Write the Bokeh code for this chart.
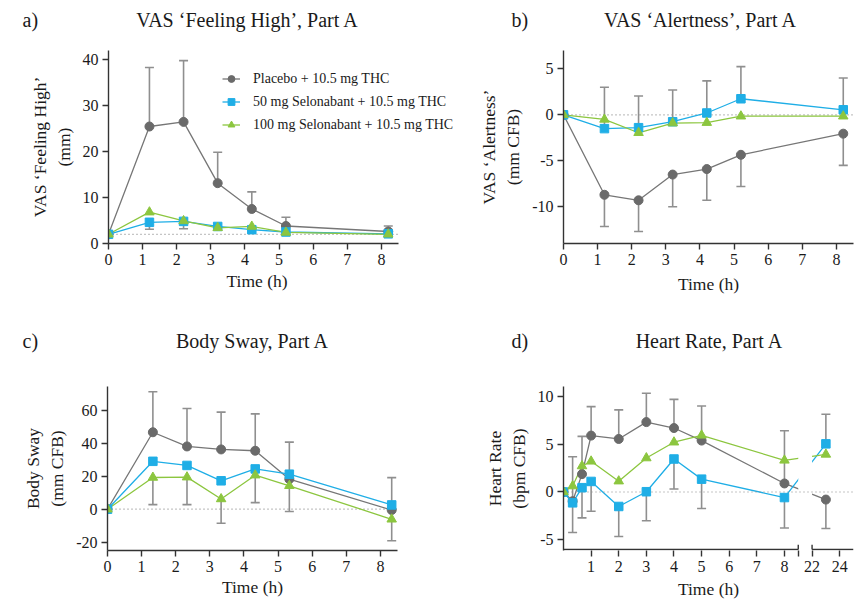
from bokeh.embed import file_html
from bokeh.layouts import column, row
from bokeh.models import FixedTicker, Label, Legend, LegendItem, Range1d, Title
from bokeh.plotting import figure
from bokeh.resources import INLINE

nan = float("nan")

SERIES = [
    "Placebo + 10.5 mg THC",
    "50 mg Selonabant + 10.5 mg THC",
    "100 mg Selonabant + 10.5 mg THC",
]

# a) VAS 'Feeling High' (mm)
TIME_A = [0, 1.2, 2.2, 3.2, 4.2, 5.2, 8.2]
HIGH_PLACEBO = [2.0, 25.4, 26.4, 13.1, 7.5, 3.8, 2.6]
HIGH_PLACEBO_UP = [nan, 38.2, 39.7, 19.8, 11.2, 5.7, 3.8]
HIGH_SEL50 = [2.0, 4.6, 4.8, 3.7, 3.0, 2.5, 2.1]
HIGH_SEL50_DOWN = [nan, 3.1, 3.2, nan, nan, nan, nan]
HIGH_SEL100 = [2.0, 6.8, 4.9, 3.4, 3.7, 2.4, 2.0]
HIGH_BASELINE = 2.0

# b) VAS 'Alertness' (mm CFB)
TIME_B = [0, 1.2, 2.2, 3.2, 4.2, 5.2, 8.2]
ALERT_PLACEBO = [0.0, -8.7, -9.3, -6.5, -5.9, -4.35, -2.05]
ALERT_PLACEBO_DOWN = [nan, -12.15, -12.7, -10.0, -9.3, -7.8, -5.5]
ALERT_SEL50 = [0.0, -1.5, -1.4, -0.75, 0.2, 1.75, 0.55]
ALERT_SEL50_UP = [nan, 3.0, 2.05, 2.7, 3.7, 5.25, 4.0]
ALERT_SEL100 = [0.0, -0.5, -1.95, -0.9, -0.85, -0.15, -0.15]

# c) Body sway (mm CFB)
TIME_C = [0, 1.33, 2.33, 3.33, 4.33, 5.33, 8.33]
SWAY_PLACEBO = [0.0, 46.6, 38.0, 36.2, 35.4, 18.2, -0.5]
SWAY_PLACEBO_UP = [nan, 71.1, 61.0, 58.8, 57.7, 40.6, 19.1]
SWAY_SEL50 = [0.0, 29.0, 26.5, 17.2, 24.4, 21.2, 2.6]
SWAY_SEL100 = [0.0, 19.2, 19.4, 6.2, 20.6, 14.2, -6.1]
SWAY_SEL100_DOWN = [nan, 2.8, 2.8, -8.5, 4.0, -1.4, -19.1]

# d) Heart rate (bpm CFB), with a late 23 h sample
TIME_D = [0, 0.33, 0.67, 1, 2, 3, 4, 5, 8, 23]
HR_PLACEBO = [0.0, -0.96, 1.86, 5.88, 5.53, 7.29, 6.67, 5.36, 0.89, -0.79]
HR_PLACEBO_UP = [nan, 3.68, 5.8, 8.9, 8.56, 10.3, 9.66, 8.97, 6.39, nan]
HR_PLACEBO_DOWN = [nan, nan, nan, nan, nan, nan, nan, nan, nan, -3.8]
HR_SEL50 = [0.0, -1.13, 0.45, 1.1, -1.51, 0.03, 3.44, 1.34, -0.58, 5.02]
HR_SEL50_UP = [nan, nan, nan, nan, nan, nan, nan, nan, nan, 8.1]
HR_SEL50_DOWN = [nan, -4.23, -2.7, -2.0, -4.64, -3.0, 0.31, -1.72, -3.75, nan]
HR_SEL100 = [0.0, 0.62, 2.71, 3.2, 1.13, 3.54, 5.19, 5.91, 3.3, 3.92]

HOUR_TICKS = [0, 1, 2, 3, 4, 5, 6, 7, 8]
HR_EARLY_TICKS = [1, 2, 3, 4, 5, 6, 7, 8]
HR_LATE_TICKS = [22, 24]

TITLES = {
    "a)": "VAS ‘Feeling High’, Part A",
    "b)": "VAS ‘Alertness’, Part A",
    "c)": "Body Sway, Part A",
    "d)": "Heart Rate, Part A",
}
TIME_LABEL = "Time (h)"

# broken time axis for heart rate: 0-8.5 h at full scale, then 22-25 h at half scale
BREAK_LO, BREAK_HI = 8.5, 22.0
BREAK_GAP = 0.5
LATE_SCALE = 0.5
HR_LAST_HOUR = 25.0
HR_AXIS_Y = -6.0


def hour_to_axis(t):
    if t <= BREAK_LO:
        return t
    return BREAK_LO + BREAK_GAP + (t - BREAK_HI) * LATE_SCALE


FONT = "Liberation Serif"
INK = "#333333"
TEXT = "#1a1a1a"
GREY = "#6a6a6a"
GREY_LINE = "#767676"
BLUE = "#1faee6"
GREEN = "#8cc63f"
BAR = "#8f8f8f"
DOTS = "#8a8a8a"

STYLES = [
    dict(marker="circle", color=GREY, line=GREY_LINE, size=9),
    dict(marker="square", color=BLUE, line=BLUE, size=8.5),
    dict(marker="triangle", color=GREEN, line=GREEN, size=9.5),
]

W = 855
LEFT_W = 470
TOP_HEADER_H = 38
BOTTOM_HEADER_H = 55
AXIS_LABEL_SIZE = "17.5px"


def style_axis(ax):
    ax.axis_line_color = INK
    ax.axis_line_width = 1.4
    ax.major_tick_line_color = INK
    ax.major_tick_line_width = 1.4
    ax.major_tick_in = 0
    ax.major_tick_out = 6
    ax.minor_tick_line_color = None
    ax.major_label_standoff = 4
    ax.major_label_text_font = FONT
    ax.major_label_text_font_size = "16px"
    ax.major_label_text_color = TEXT
    ax.axis_label_text_font = FONT
    ax.axis_label_text_font_size = AXIS_LABEL_SIZE
    ax.axis_label_text_font_style = "normal"
    ax.axis_label_text_color = TEXT


def make_panel(width, height, borders, x_end, y_lo, y_hi, y_ticks, ylabel,
               x_bounds=(0, 8.5), xlabel=TIME_LABEL, xlabel_standoff=2):
    left, right, top, bottom = borders
    p = figure(width=width, height=height,
               x_range=Range1d(0, x_end), y_range=Range1d(y_lo, y_hi),
               output_backend="svg", toolbar_location=None,
               min_border_left=left, min_border_right=right,
               min_border_top=top, min_border_bottom=bottom)
    p.grid.visible = False
    p.outline_line_color = None
    p.yaxis.ticker = FixedTicker(ticks=y_ticks)
    p.yaxis.major_label_overrides = {t: str(t) for t in y_ticks if t < 0}
    p.yaxis.axis_label = ylabel
    p.xaxis.ticker = FixedTicker(ticks=HOUR_TICKS)
    p.xaxis.bounds = x_bounds
    if xlabel:
        p.xaxis.axis_label = xlabel
    for ax in p.axis:
        style_axis(ax)
    p.yaxis.axis_label_standoff = 6
    p.xaxis.axis_label_standoff = xlabel_standoff
    return p


def reference_line(p, level_value, x_from, x_to):
    p.segment(x0=[x_from], y0=[level_value], x1=[x_to], y1=[level_value],
              line_color=DOTS, line_width=1.2, line_dash="1 3")


def error_bars(p, x, y, bound):
    p.segment(x0=x, y0=y, x1=x, y1=bound, line_color=BAR, line_width=1.6)
    p.scatter(x=x, y=bound, marker="dash", size=9, line_color=BAR,
              line_width=1.6)


def series_lines(p, x, ys):
    return [p.line(x=x, y=y, line_color=st["line"], line_width=1.3)
            for y, st in zip(ys, STYLES)]


def series_markers(p, x, ys):
    return [p.scatter(x=x, y=y, marker=st["marker"], size=st["size"],
                      fill_color=st["color"], line_color=st["color"])
            for y, st in zip(ys, STYLES)]


def header(height, entries):
    """Strip above a row of panels holding the panel letters and titles."""
    h = figure(width=W, height=height, x_range=Range1d(0, W),
               y_range=Range1d(height, 0), output_backend="svg",
               toolbar_location=None, x_axis_type=None, y_axis_type=None,
               min_border=0)
    h.grid.visible = False
    h.outline_line_color = None
    for letter, letter_x, title_x, y in entries:
        h.add_layout(Label(x=letter_x, y=y, text=letter, text_align="left",
                           text_baseline="middle", text_font=FONT,
                           text_font_size="20px", text_color=TEXT))
        h.add_layout(Label(x=title_x, y=y, text=TITLES[letter],
                           text_align="center", text_baseline="middle",
                           text_font=FONT, text_font_size="20px",
                           text_color=TEXT))
    return h


top_header = header(TOP_HEADER_H, [("a)", 22, 247, 19), ("b)", 511, 700, 19)])
bottom_header = header(BOTTOM_HEADER_H, [("c)", 22, 252, 40.5), ("d)", 511, 709, 40.5)])

# ---- a) VAS 'Feeling High' (frame runs on to the right edge so the legend fits)
a_frame_w = LEFT_W - 108
pa = make_panel(LEFT_W, 300 - TOP_HEADER_H, (108, 0, 12, 57),
                8.5 * a_frame_w / 290, 0, 41.9,
                [0, 10, 20, 30, 40], "VAS ‘Feeling High’\n(mm)", xlabel=None)
# time label centred under the 0-8.5 h stretch of the axis, not the wider frame
pa.add_layout(Title(text=TIME_LABEL, align="left", offset=118,
                    vertical_align="top", standoff=6, text_font=FONT,
                    text_font_size=AXIS_LABEL_SIZE, text_font_style="normal",
                    text_color=TEXT), "below")
reference_line(pa, HIGH_BASELINE, 0, 8.5)
error_bars(pa, TIME_A, HIGH_PLACEBO, HIGH_PLACEBO_UP)
error_bars(pa, TIME_A, HIGH_SEL50, HIGH_SEL50_DOWN)
lines_a = series_lines(pa, TIME_A, [HIGH_PLACEBO, HIGH_SEL50, HIGH_SEL100])
marks_a = series_markers(pa, TIME_A, [HIGH_PLACEBO, HIGH_SEL50, HIGH_SEL100])

legend = Legend(
    items=[LegendItem(label=name, renderers=[ln, mk])
           for name, ln, mk in zip(SERIES, lines_a, marks_a)],
    location=(114, 110), padding=0, margin=0, spacing=6,
    glyph_width=18, glyph_height=17, label_height=17, label_standoff=13,
    border_line_color=None, background_fill_alpha=0,
    label_text_font=FONT, label_text_font_size="14px",
    label_text_color=TEXT, label_text_baseline="middle",
)
pa.add_layout(legend)

# ---- b) VAS 'Alertness'
pb = make_panel(W - LEFT_W, 300 - TOP_HEADER_H, (563 - LEFT_W, 2, 12, 57),
                8.5, -14, 7, [-10, -5, 0, 5], "VAS ‘Alertness’\n(mm CFB)",
                xlabel_standoff=6)
reference_line(pb, 0, 0, 8.5)
error_bars(pb, TIME_B, ALERT_PLACEBO, ALERT_PLACEBO_DOWN)
error_bars(pb, TIME_B, ALERT_SEL50, ALERT_SEL50_UP)
series_lines(pb, TIME_B, [ALERT_PLACEBO, ALERT_SEL50, ALERT_SEL100])
series_markers(pb, TIME_B, [ALERT_PLACEBO, ALERT_SEL50, ALERT_SEL100])

# ---- c) Body sway
bottom_h = 302 - BOTTOM_HEADER_H
pc = make_panel(LEFT_W, bottom_h, (107, LEFT_W - 397, 3, 52), 8.5, -25, 74.3,
                [-20, 0, 20, 40, 60], "Body Sway\n(mm CFB)")
reference_line(pc, 0, 0, 8.5)
error_bars(pc, TIME_C, SWAY_PLACEBO, SWAY_PLACEBO_UP)
error_bars(pc, TIME_C, SWAY_SEL100, SWAY_SEL100_DOWN)
series_lines(pc, TIME_C, [SWAY_PLACEBO, SWAY_SEL50, SWAY_SEL100])
series_markers(pc, TIME_C, [SWAY_PLACEBO, SWAY_SEL50, SWAY_SEL100])

# ---- d) Heart rate on a broken time axis
x_end_d = hour_to_axis(HR_LAST_HOUR)
late_start = hour_to_axis(BREAK_HI)
pd_ = make_panel(W - LEFT_W, bottom_h, (563 - LEFT_W, 2, 31, 50), x_end_d,
                 HR_AXIS_Y - 0.1, 11, [-5, 0, 5, 10], "Heart Rate\n(bpm CFB)",
                 x_bounds=(0, x_end_d), xlabel_standoff=4)
td = [hour_to_axis(t) for t in TIME_D]
error_bars(pd_, td, HR_PLACEBO, HR_PLACEBO_UP)
error_bars(pd_, td, HR_PLACEBO, HR_PLACEBO_DOWN)
error_bars(pd_, td, HR_SEL50, HR_SEL50_UP)
error_bars(pd_, td, HR_SEL50, HR_SEL50_DOWN)
series_lines(pd_, td, [HR_PLACEBO, HR_SEL50, HR_SEL100])
# blank the stretch of the connecting lines that falls inside the axis break
pd_.quad(left=[BREAK_LO], right=[late_start], bottom=[HR_AXIS_Y - 0.1],
         top=[11], fill_color="white", line_color=None)
reference_line(pd_, 0, 0, x_end_d)
series_markers(pd_, td, [HR_PLACEBO, HR_SEL50, HR_SEL100])

# the time axis line itself, split at the break, with end caps
pd_.segment(x0=[0, late_start], y0=[HR_AXIS_Y, HR_AXIS_Y],
            x1=[BREAK_LO, x_end_d], y1=[HR_AXIS_Y, HR_AXIS_Y],
            line_color=INK, line_width=1.4)
cap_h = 0.5
pd_.segment(x0=[BREAK_LO, late_start], y0=[HR_AXIS_Y, HR_AXIS_Y],
            x1=[BREAK_LO, late_start], y1=[HR_AXIS_Y + cap_h, HR_AXIS_Y + cap_h],
            line_color=INK, line_width=1.4)
hr_ticks = HR_EARLY_TICKS + [BREAK_LO] + [hour_to_axis(t) for t in HR_LATE_TICKS]
hr_labels = {BREAK_LO: ""}
hr_labels.update({hour_to_axis(t): str(t) for t in HR_LATE_TICKS})
pd_.xaxis.ticker = FixedTicker(ticks=hr_ticks)
pd_.xaxis.major_label_overrides = hr_labels
pd_.xaxis.axis_line_color = None

layout = column(top_header, row(pa, pb), bottom_header, row(pc, pd_))

with open("out.html", "w") as fh:
    fh.write(file_html(layout, INLINE))
